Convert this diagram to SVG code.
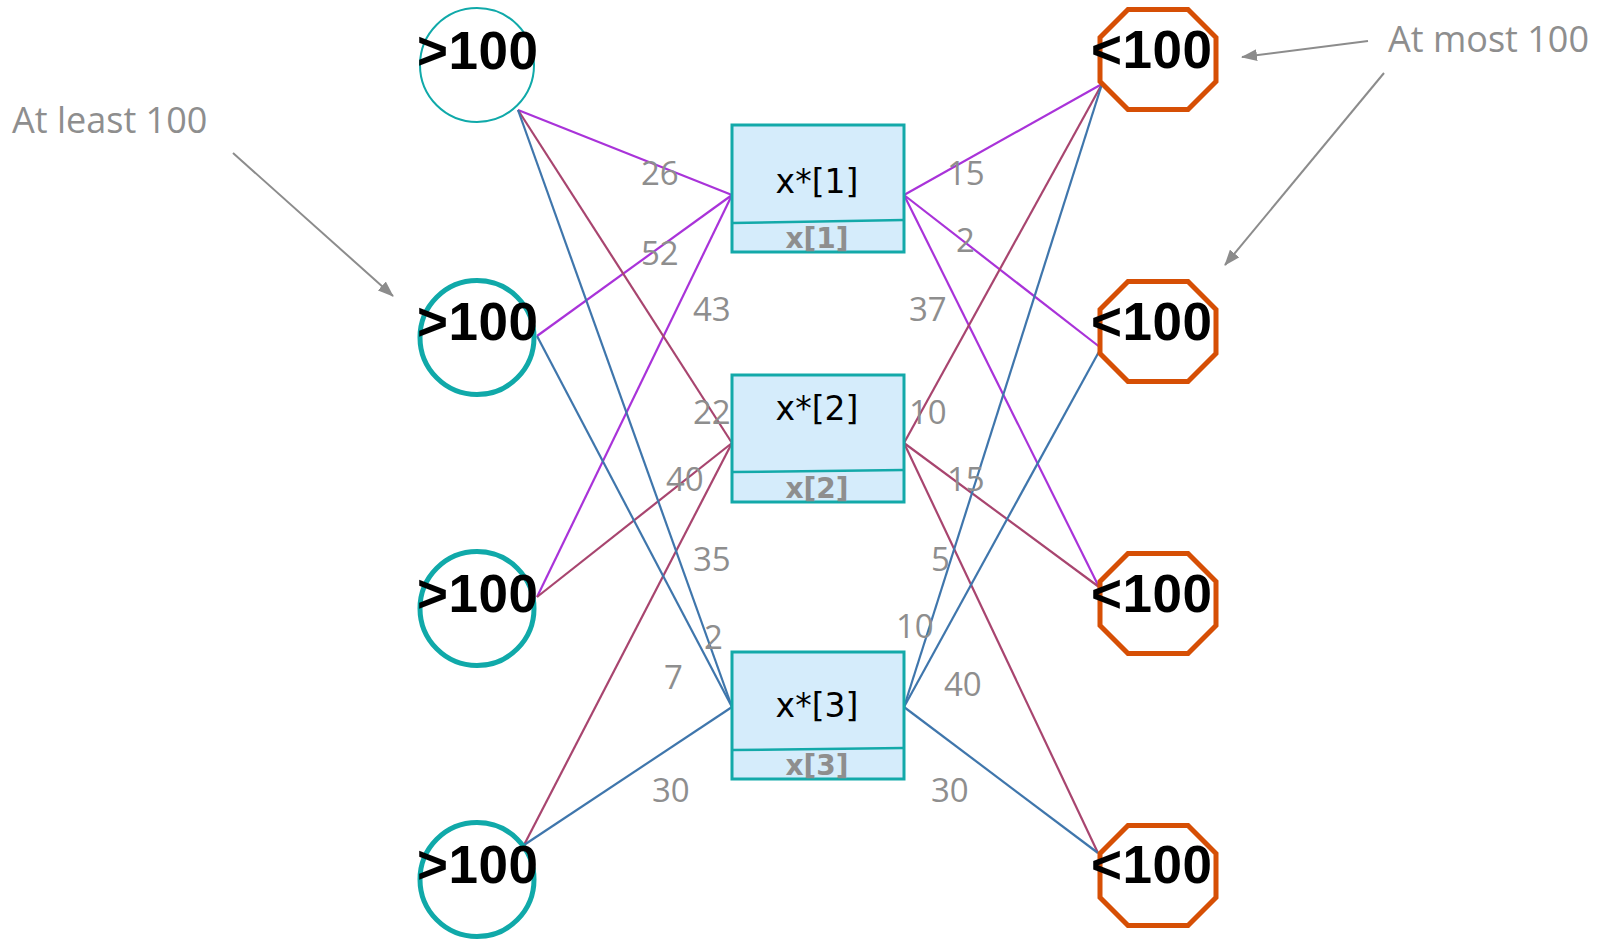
<svg xmlns="http://www.w3.org/2000/svg" width="1597" height="939" viewBox="0 0 1597 939">
<style>
.circ{fill:none;stroke:#10A9A9;stroke-width:5}
.oct{fill:none;stroke:#D64F05;stroke-width:5;stroke-linejoin:miter}
.big{font-family:"Liberation Sans",Arial,sans-serif;font-weight:bold;font-size:53px;fill:#000;letter-spacing:0.5px}
.box{fill:#D5ECFB;stroke:#13A9A9;stroke-width:3}
.div{stroke:#13A9A9;stroke-width:2.5;fill:none}
.main{font-family:"DejaVu Sans",sans-serif;font-size:33px;fill:#000;text-anchor:middle}
.sub{font-family:"DejaVu Sans",sans-serif;font-weight:bold;font-size:28px;fill:#8E8E8E;text-anchor:middle}
.lbl{font-family:"Open Sans",sans-serif;font-size:33px;fill:#8E8E8E}
.ann{font-family:"Open Sans",sans-serif;font-size:36px;fill:#8E8E8E}
.p{stroke:#A933D9;stroke-width:2.2;fill:none}
.m{stroke:#A8456F;stroke-width:2.2;fill:none}
.b{stroke:#3F76AC;stroke-width:2.2;fill:none}
.arr{stroke:#8C8C8C;stroke-width:2;fill:none;marker-end:url(#ah)}
</style>
<defs>
<marker id="ah" markerUnits="userSpaceOnUse" markerWidth="16" markerHeight="12" refX="15" refY="6" orient="auto">
<path d="M0,0 L16,6 L0,12 z" fill="#8C8C8C"/>
</marker>
</defs>
<rect width="1597" height="939" fill="#fff"/>
<g id="connectors">
<line class="p" x1="518" y1="110" x2="732" y2="195"/>
<line class="p" x1="537" y1="336" x2="732" y2="195"/>
<line class="p" x1="537" y1="597" x2="732" y2="195"/>
<line class="m" x1="518" y1="110" x2="732" y2="443"/>
<line class="m" x1="537" y1="597" x2="732" y2="443"/>
<line class="m" x1="524" y1="845" x2="732" y2="443"/>
<line class="b" x1="518" y1="110" x2="732" y2="707"/>
<line class="b" x1="537" y1="336" x2="732" y2="707"/>
<line class="b" x1="524" y1="845" x2="732" y2="707"/>
<line class="p" x1="904" y1="195" x2="1102" y2="84"/>
<line class="p" x1="904" y1="195" x2="1101" y2="348"/>
<line class="p" x1="904" y1="195" x2="1099" y2="587"/>
<line class="m" x1="904" y1="443" x2="1102" y2="84"/>
<line class="m" x1="904" y1="443" x2="1099" y2="587"/>
<line class="m" x1="904" y1="443" x2="1098" y2="853"/>
<line class="b" x1="904" y1="707" x2="1102" y2="84"/>
<line class="b" x1="904" y1="707" x2="1101" y2="348"/>
<line class="b" x1="904" y1="707" x2="1098" y2="853"/>
<line class="arr" x1="233" y1="153" x2="393" y2="296"/>
<line class="arr" x1="1368" y1="41" x2="1242" y2="57"/>
<line class="arr" x1="1384" y1="73" x2="1225" y2="265"/>
</g>
<g id="labels">
<text class="lbl" x="641" y="185">26</text>
<text class="lbl" x="641" y="265">52</text>
<text class="lbl" x="693" y="321">43</text>
<text class="lbl" x="693" y="424">22</text>
<text class="lbl" x="666" y="491">40</text>
<text class="lbl" x="693" y="571">35</text>
<text class="lbl" x="704" y="649">2</text>
<text class="lbl" x="664" y="689">7</text>
<text class="lbl" x="652" y="802">30</text>
<text class="lbl" x="947" y="185">15</text>
<text class="lbl" x="956" y="252">2</text>
<text class="lbl" x="909" y="321">37</text>
<text class="lbl" x="909" y="424">10</text>
<text class="lbl" x="947" y="491">15</text>
<text class="lbl" x="931" y="571">5</text>
<text class="lbl" x="896" y="638">10</text>
<text class="lbl" x="944" y="696">40</text>
<text class="lbl" x="931" y="802">30</text>
</g>
<g id="s1"><circle cx="477" cy="65" r="57" class="circ" style="stroke-width:2"/><text class="big" x="417" y="69">&gt;100</text></g>
<g id="s2"><circle cx="477" cy="337.5" r="57" class="circ"/><text class="big" x="417" y="340">&gt;100</text></g>
<g id="s3"><circle cx="477" cy="608.5" r="57" class="circ"/><text class="big" x="417" y="612">&gt;100</text></g>
<g id="s4"><circle cx="477" cy="879.5" r="57" class="circ"/><text class="big" x="417" y="883">&gt;100</text></g>
<g id="x1"><rect class="box" x="732" y="125" width="172" height="127"/><line class="div" x1="732" y1="223" x2="904" y2="220"/><text class="main" x="817" y="193">x*[1]</text><text class="sub" x="817" y="248">x[1]</text></g>
<g id="x2"><rect class="box" x="732" y="375" width="172" height="127"/><line class="div" x1="732" y1="472" x2="904" y2="470"/><text class="main" x="817" y="420">x*[2]</text><text class="sub" x="817" y="498">x[2]</text></g>
<g id="x3"><rect class="box" x="732" y="652" width="172" height="127"/><line class="div" x1="732" y1="750" x2="904" y2="748"/><text class="main" x="817" y="717">x*[3]</text><text class="sub" x="817" y="775">x[3]</text></g>
<g id="d1"><polygon class="oct" points="1128,9.5 1188,9.5 1216,37.5 1216,81.5 1188,109.5 1128,109.5 1100,81.5 1100,37.5"/><text class="big" x="1091" y="68">&lt;100</text></g>
<g id="d2"><polygon class="oct" points="1128,281.5 1188,281.5 1216,309.5 1216,353.5 1188,381.5 1128,381.5 1100,353.5 1100,309.5"/><text class="big" x="1091" y="340">&lt;100</text></g>
<g id="d3"><polygon class="oct" points="1128,553.5 1188,553.5 1216,581.5 1216,625.5 1188,653.5 1128,653.5 1100,625.5 1100,581.5"/><text class="big" x="1091" y="612">&lt;100</text></g>
<g id="d4"><polygon class="oct" points="1128,825.5 1188,825.5 1216,853.5 1216,897.5 1188,925.5 1128,925.5 1100,897.5 1100,853.5"/><text class="big" x="1091" y="883">&lt;100</text></g>
<g id="annotations">
<text class="ann" x="12" y="133">At least 100</text>
<text class="ann" x="1388" y="52">At most 100</text>
</g>
</svg>
